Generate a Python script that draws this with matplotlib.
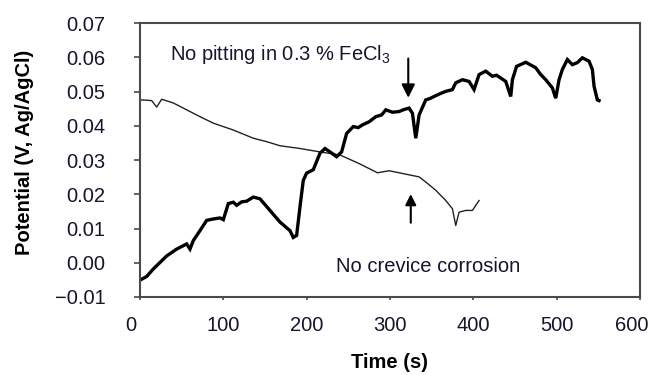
import matplotlib
matplotlib.use("Agg")
import matplotlib.pyplot as plt

plt.rcParams['font.family'] = ['Liberation Sans', 'DejaVu Sans']
plt.rcParams['mathtext.fontset'] = 'custom'
plt.rcParams['mathtext.rm'] = 'Liberation Sans'

# pitting test (thick line)
t_pit = [2, 8, 16, 24, 32, 44, 56, 60, 64, 72, 80, 88, 96, 100, 106, 112, 116, 122, 128,
         136, 144, 156, 168, 180, 184, 188, 192, 196, 200, 208, 216, 222, 228, 236, 242,
         248, 256, 262, 267, 275, 283, 290, 295, 303, 311, 317, 323, 327, 331, 335, 343,
         348, 353, 360, 367, 375, 379, 387, 395, 401, 407, 415, 423, 428, 433, 439, 445,
         447, 452, 463, 475, 481, 487, 495, 499, 503, 507, 513, 519, 525, 531, 539, 543,
         545, 549, 551]
v_pit = [-0.0048, -0.0040, -0.0018, 0.0001, 0.0020, 0.0040, 0.0055, 0.0040, 0.0065,
         0.0094, 0.0124, 0.0128, 0.0131, 0.0126, 0.0173, 0.0177, 0.0168, 0.0178, 0.0180,
         0.0192, 0.0187, 0.0153, 0.0119, 0.0094, 0.0074, 0.0080, 0.0163, 0.0241, 0.0262,
         0.0272, 0.0320, 0.0334, 0.0324, 0.0310, 0.0324, 0.0378, 0.0398, 0.0395, 0.0403,
         0.0412, 0.0427, 0.0432, 0.0447, 0.0440, 0.0442, 0.0448, 0.0452, 0.0437, 0.0364,
         0.0432, 0.0476, 0.0480, 0.0486, 0.0494, 0.0501, 0.0506, 0.0526, 0.0535, 0.0530,
         0.0506, 0.0550, 0.0560, 0.0545, 0.0548, 0.0540, 0.0530, 0.0486, 0.0535, 0.0574,
         0.0586, 0.0570, 0.0550, 0.0535, 0.0511, 0.0481, 0.0535, 0.0565, 0.0594, 0.0579,
         0.0585, 0.0599, 0.0589, 0.0565, 0.0516, 0.0476, 0.0474]

# crevice test (thin line)
t_crev = [2, 14, 20, 26, 40, 56, 72, 88, 112, 136, 152, 168, 192, 216, 240, 263, 285,
          299, 319, 335, 343, 355, 367, 375, 379, 383, 391, 399, 407]
v_crev = [0.0476, 0.0474, 0.0455, 0.0478, 0.0467, 0.0447, 0.0427, 0.0408, 0.0388,
          0.0364, 0.0354, 0.0342, 0.0334, 0.0324, 0.0315, 0.0290, 0.0263, 0.0269,
          0.0259, 0.0251, 0.0236, 0.0212, 0.0182, 0.0158, 0.0109, 0.0148, 0.0153,
          0.0153, 0.0182]

yticks = [-0.01, 0.0, 0.01, 0.02, 0.03, 0.04, 0.05, 0.06, 0.07]
ylabels = ['\u22120.01', '0.00', '0.01', '0.02', '0.03', '0.04', '0.05', '0.06', '0.07']
xticks = [0, 100, 200, 300, 400, 500, 600]
# trailing spaces nudge the end labels left like in the original
xlabels = ['0   ', '100', '200', '300', '400', '500', '600   ']

txt = '#15152e'
fs = 14.5

fig = plt.figure(figsize=(6.5, 3.75), dpi=100)
ax = fig.add_axes([0.2154, 0.208, 0.769, 0.730])

ax.plot(t_crev, v_crev, color='#222222', lw=1.0)
ax.plot(t_pit, v_pit, color='black', lw=2.4, solid_joinstyle='miter')

ax.set_xlim(0, 600)
ax.set_ylim(-0.01, 0.07)
ax.set_xticks(xticks)
ax.set_xticklabels(xlabels)
ax.set_yticks(yticks)
ax.set_yticklabels(ylabels)

for s in ax.spines.values():
    s.set_color('#4a4a4a')
    s.set_linewidth(1.5)
ax.tick_params(axis='y', direction='out', length=4, width=1.2, color='#4a4a4a',
               pad=21, labelsize=fs, labelcolor=txt)
ax.tick_params(axis='x', direction='out', length=2, width=1.2, color='#4a4a4a',
               pad=12, labelsize=fs, labelcolor=txt)

ax.set_xlabel('Time (s)', fontsize=fs, fontweight='bold', labelpad=13, color='black')
ax.set_ylabel('Potential (V, Ag/AgCl)', fontsize=fs, fontweight='bold', color='black')
ax.yaxis.set_label_coords(-0.213, 0.527)

ax.text(36, 0.0609, 'No pitting in 0.3 % FeCl$_3$', fontsize=fs, color=txt,
        va='center', ha='left')
ax.annotate('', xy=(322, 0.0474), xytext=(322, 0.0605),
            arrowprops=dict(arrowstyle='-|>', color='black', lw=1.5,
                            mutation_scale=20))
ax.text(235, -0.0012, 'No crevice corrosion', fontsize=fs, color=txt,
        va='center', ha='left')
ax.annotate('', xy=(325, 0.0209), xytext=(325, 0.0109),
            arrowprops=dict(arrowstyle='-|>', color='black', lw=1.5,
                            mutation_scale=16))

fig.savefig('out.png', dpi=100)
